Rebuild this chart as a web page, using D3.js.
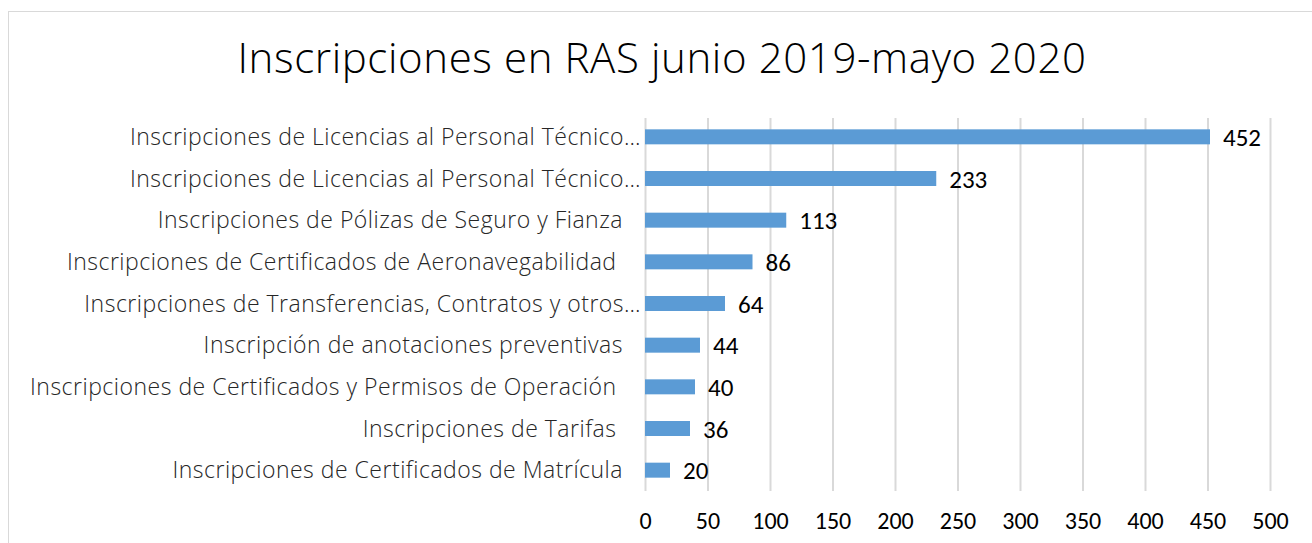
<!DOCTYPE html>
<html>
<head>
<meta charset="utf-8">
<script src="https://cdn.jsdelivr.net/npm/d3@7"></script>
<style>
  body { margin: 0; background: #fff; }
  svg { display: block; }
  .cat { white-space: pre; }
</style>
</head>
<body>
<div id="chart"></div>
<script>
// data
var categories = [
  "Inscripciones de Licencias al Personal Técnico…",
  "Inscripciones de Licencias al Personal Técnico…",
  "Inscripciones de Pólizas de Seguro y Fianza",
  "Inscripciones de Certificados de Aeronavegabilidad ",
  "Inscripciones de Transferencias, Contratos y otros…",
  "Inscripción de anotaciones preventivas",
  "Inscripciones de Certificados y Permisos de Operación ",
  "Inscripciones de Tarifas ",
  "Inscripciones de Certificados de Matrícula"
];
var values = [452, 233, 113, 86, 64, 44, 40, 36, 20];
var xTicks = [0, 50, 100, 150, 200, 250, 300, 350, 400, 450, 500];
var title = "Inscripciones en RAS junio 2019-mayo 2020";

var svgWidth = 1312, svgHeight = 543;
var margin = { top: 116, left: 645, right: 42, bottom: 52 };
var width = svgWidth - margin.left - margin.right;   // 625 -> 500 units
var height = svgHeight - margin.top - margin.bottom;

var numFont = "Carlito, 'Liberation Sans Narrow', 'Liberation Sans', sans-serif";

var svg = d3.select("#chart").append("svg")
  .attr("width", svgWidth)
  .attr("height", svgHeight);

// chart border
svg.append("rect")
  .attr("x", 8.5).attr("y", 11.5)
  .attr("width", svgWidth + 10).attr("height", svgHeight + 10)
  .attr("fill", "none")
  .attr("stroke", "#d9d9d9");

svg.append("text")
  .attr("x", 662)
  .attr("y", 73)
  .attr("text-anchor", "middle")
  .style("font-family", "'Open Sans', sans-serif")
  .style("font-weight", 300)
  .style("font-size", "42px")
  .style("letter-spacing", "0.6px")
  .attr("fill", "#000")
  .text(title);

var chartGroup = svg.append("g")
  .attr("transform", `translate(${margin.left}, ${margin.top})`);

var xScale = d3.scaleLinear().domain([0, 500]).range([0, width]);
var yScale = d3.scaleBand().domain(d3.range(categories.length)).range([0, height]).paddingInner(0.64).paddingOuter(0.32);

// gridlines
chartGroup.selectAll(".grid")
  .data(xTicks)
  .enter()
  .append("line")
  .attr("x1", d => xScale(d) + 0.5)
  .attr("x2", d => xScale(d) + 0.5)
  .attr("y1", 2)
  .attr("y2", height)
  .attr("stroke", "#d9d9d9")
  .attr("stroke-width", 2);

// x axis labels
var xAxis = d3.axisBottom(xScale).tickValues(xTicks).tickSize(0).tickPadding(0);
var xg = chartGroup.append("g")
  .attr("transform", `translate(0, ${height + 21})`)
  .call(xAxis);
xg.select(".domain").remove();
xg.selectAll("text")
  .style("font-family", numFont)
  .style("font-size", "24px")
  .attr("fill", "#000");

// bars
chartGroup.selectAll(".bar")
  .data(values)
  .enter()
  .append("rect")
  .attr("x", 0)
  .attr("y", (d, i) => yScale(i))
  .attr("width", d => xScale(d))
  .attr("height", yScale.bandwidth())
  .attr("fill", "#5b9bd5");

// value labels
chartGroup.selectAll(".val")
  .data(values)
  .enter()
  .append("text")
  .attr("x", d => xScale(d) + 13)
  .attr("y", (d, i) => yScale(i) + yScale.bandwidth() / 2 + 9)
  .style("font-family", numFont)
  .style("font-size", "25px")
  .attr("fill", "#000")
  .text(d => d);

// category labels (trailing spaces kept, as in the source)
chartGroup.selectAll(".cat")
  .data(categories)
  .enter()
  .append("text")
  .attr("class", "cat")
  .attr("xml:space", "preserve")
  .attr("x", d => d.endsWith("…") ? -4 : -22)
  .attr("y", (d, i) => yScale(i) + yScale.bandwidth() / 2 + 8)
  .attr("text-anchor", "end")
  .style("font-family", "'Open Sans', sans-serif")
  .style("font-weight", 300)
  .style("font-size", "23px")
  .style("letter-spacing", "0.5px")
  .attr("fill", "#262626")
  .text(d => d);
</script>
</body>
</html>
